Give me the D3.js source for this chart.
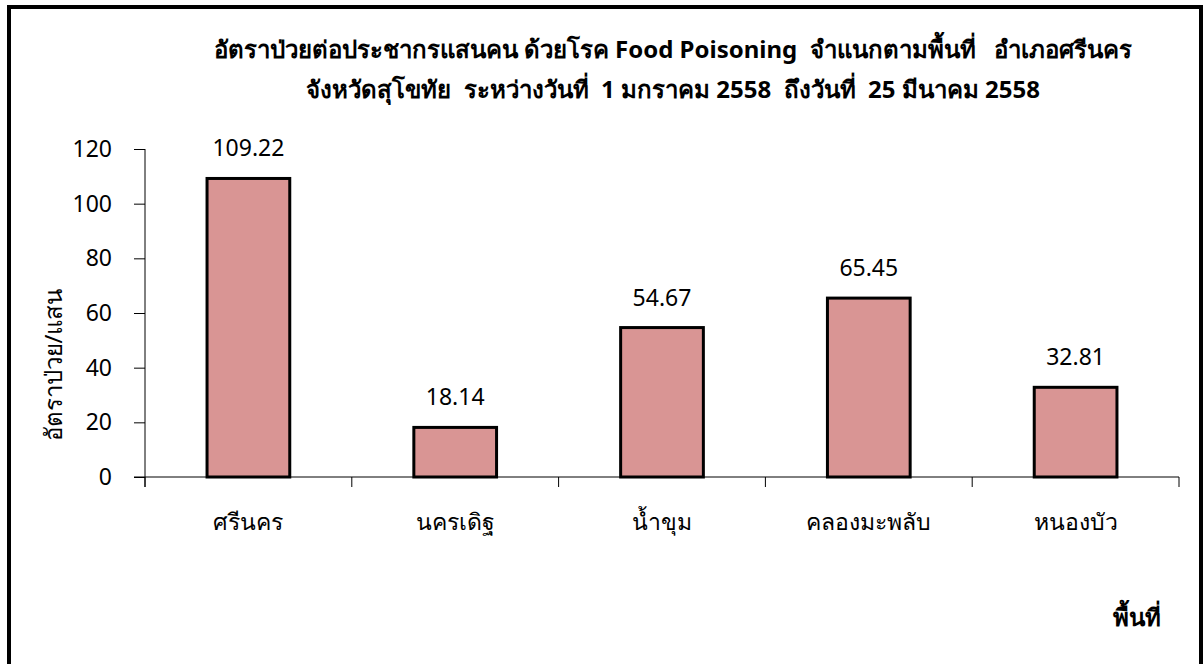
<!DOCTYPE html>
<html>
<head>
<meta charset="utf-8">
<script src="https://cdn.jsdelivr.net/npm/d3@7/dist/d3.min.js"></script>
<style>
  body { margin: 0; background: #fff; }
  text { font-family: "Noto Sans", "DejaVu Sans", sans-serif; fill: #000; white-space: pre; }
</style>
</head>
<body>
<div id="rate_chart"></div>
<script>
// Chart data
var categories = ["ศรีนคร", "นครเดิฐ", "น้ำขุม", "คลองมะพลับ", "หนองบัว"];
var rates      = [109.22, 18.14, 54.67, 65.45, 32.81];
var y_ticks    = [0, 20, 40, 60, 80, 100, 120];
var title_lines = [
  "อัตราป่วยต่อประชากรแสนคน ด้วยโรค Food Poisoning  จำแนกตามพื้นที่   อำเภอศรีนคร",
  "จังหวัดสุโขทัย  ระหว่างวันที่  1 มกราคม 2558  ถึงวันที่  25 มีนาคม 2558"
];
var y_title = "อัตราป่วย/แสน";
var x_title = "พื้นที่";

var width  = 1203,
    height = 664;

var plot = { left: 145, right: 1179, top: 149, bottom: 477 };

var svg = d3.select("#rate_chart")
  .append("svg")
    .attr("width", width)
    .attr("height", height);

// outer frame
svg.append("rect")
  .attr("x", 9).attr("y", 7)
  .attr("width", 1192).attr("height", 670)
  .style("fill", "none")
  .style("stroke", "#000")
  .style("stroke-width", 4);

var x = d3.scaleBand()
  .domain(categories)
  .range([plot.left, plot.right])
  .paddingInner(0.6)
  .paddingOuter(0.3);

var band = d3.scaleBand()
  .domain(categories)
  .range([plot.left, plot.right]);

var y = d3.scaleLinear()
  .domain([0, 120])
  .range([plot.bottom, plot.top]);

// y axis
var yAxis = svg.append("g")
  .attr("transform", "translate(" + plot.left + ",0)")
  .call(d3.axisLeft(y).tickValues(y_ticks).tickSizeInner(11).tickSizeOuter(0).tickPadding(22));

yAxis.select(".domain").attr("d", "M0," + plot.top + "V" + (plot.bottom + 10));
yAxis.selectAll("text").style("font-size", "23px");

// x axis: ticks on the band edges
var edges = categories.map(function(c) { return band(c); }).concat([plot.right]);
var xAxis = svg.append("g").attr("class", "x_axis");
xAxis.append("line")
  .attr("x1", plot.left - 11).attr("x2", plot.right)
  .attr("y1", plot.bottom).attr("y2", plot.bottom);
xAxis.selectAll("line.tick")
  .data(edges)
  .enter()
  .append("line")
    .attr("class", "tick")
    .attr("x1", function(d) { return d; })
    .attr("x2", function(d) { return d; })
    .attr("y1", plot.bottom)
    .attr("y2", plot.bottom + 10);
xAxis.selectAll("line").style("stroke", "#000").style("stroke-width", 1);
yAxis.selectAll("line, path").style("stroke", "#000").style("stroke-width", 1);

xAxis.selectAll("text")
  .data(categories)
  .enter()
  .append("text")
    .attr("x", function(d) { return band(d) + band.bandwidth() / 2; })
    .attr("y", 530)
    .attr("text-anchor", "middle")
    .style("font-size", "23px")
    .text(function(d) { return d; });

// bars
var data = categories.map(function(c, i) { return { name: c, value: rates[i] }; });

svg.append("g")
  .selectAll("rect")
  .data(data)
  .enter()
  .append("rect")
    .attr("x", function(d) { return x(d.name); })
    .attr("y", function(d) { return y(d.value); })
    .attr("width", x.bandwidth())
    .attr("height", function(d) { return y(0) - y(d.value); })
    .style("fill", "#d99594")
    .style("stroke", "#000")
    .style("stroke-width", 3);

// value labels
svg.append("g")
  .selectAll("text")
  .data(data)
  .enter()
  .append("text")
    .attr("x", function(d) { return x(d.name) + x.bandwidth() / 2; })
    .attr("y", function(d) { return y(d.value) - 22; })
    .attr("text-anchor", "middle")
    .style("font-size", "23px")
    .text(function(d) { return d.value.toFixed(2); });

// titles
svg.append("g")
  .selectAll("text")
  .data(title_lines)
  .enter()
  .append("text")
    .attr("x", 673)
    .attr("y", function(d, i) { return 58 + i * 40; })
    .attr("text-anchor", "middle")
    .style("font-size", "24px")
    .style("font-weight", "bold")
    .text(function(d) { return d; });

svg.append("text")
  .attr("transform", "translate(62,365) rotate(-90)")
  .attr("text-anchor", "middle")
  .style("font-size", "24px")
  .text(y_title);

svg.append("text")
  .attr("x", 1137)
  .attr("y", 626)
  .attr("text-anchor", "middle")
  .style("font-size", "24px")
  .style("font-weight", "bold")
  .text(x_title);
</script>
</body>
</html>
